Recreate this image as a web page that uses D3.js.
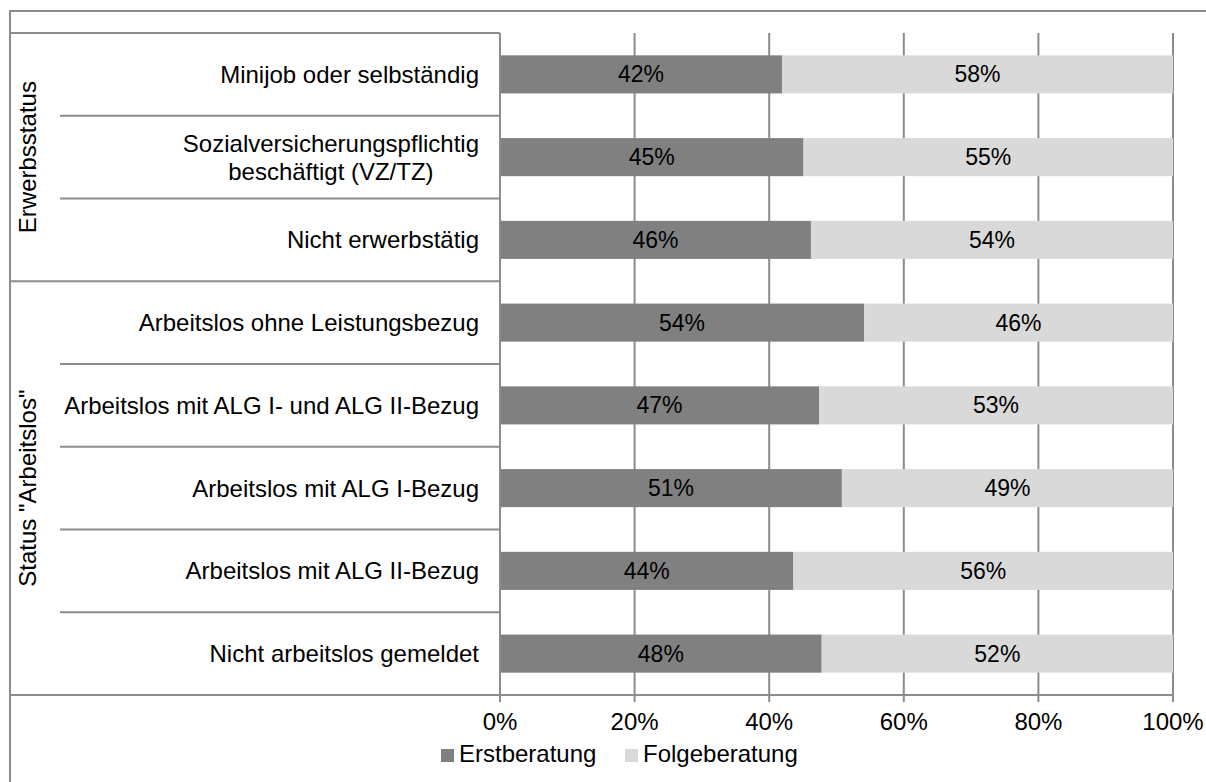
<!DOCTYPE html>
<html><head><meta charset="utf-8">
<script src="https://cdn.jsdelivr.net/npm/d3@7"></script>
<style>body{margin:0;background:#fff}svg{display:block}text{font-family:"Liberation Sans",Arial,sans-serif;fill:#000}</style>
</head><body><svg id="c" width="1206" height="782"></svg>
<script>
const categories = [
  "Minijob oder selbständig",
  "Sozialversicherungspflichtig\nbeschäftigt (VZ/TZ)",
  "Nicht erwerbstätig",
  "Arbeitslos ohne Leistungsbezug",
  "Arbeitslos mit ALG I- und ALG II-Bezug",
  "Arbeitslos mit ALG I-Bezug",
  "Arbeitslos mit ALG II-Bezug",
  "Nicht arbeitslos gemeldet"
];
const erstberatung = [41.9, 45.1, 46.2, 54.1, 47.4, 50.8, 43.6, 47.8];
const folgeberatung = [58.1, 54.9, 53.8, 45.9, 52.6, 49.2, 56.4, 52.2];
const groups = [
  {name: "Erwerbsstatus", from: 0, to: 2},
  {name: "Status \"Arbeitslos\"", from: 3, to: 7}
];
const seriesNames = ["Erstberatung", "Folgeberatung"];
const colors = ["#808080", "#d9d9d9"];
const tickValues = [0, 20, 40, 60, 80, 100];

(function(){
const svg = d3.select("#c");
const FS = 24;
const pL = 500, pR = 1173, pT = 33, pB = 695;
const x = d3.scaleLinear().domain([0, 100]).range([pL, pR]);
const y = d3.scaleBand().domain(d3.range(categories.length)).range([pT, pB]).paddingInner(0.54).paddingOuter(0.27);
const yb = d3.scaleBand().domain(d3.range(categories.length)).range([pT, pB]);
const lineCol = "#8c8c8c";

svg.append("line").attr("x1",10).attr("x2",1206).attr("y1",11).attr("y2",11).attr("stroke",lineCol).attr("stroke-width",2);
svg.append("line").attr("x1",10).attr("x2",10).attr("y1",10).attr("y2",782).attr("stroke",lineCol).attr("stroke-width",2);

svg.append("g").selectAll("line").data(tickValues.slice(1)).join("line")
  .attr("x1", d=>x(d)).attr("x2", d=>x(d)).attr("y1", pT).attr("y2", pB+7)
  .attr("stroke", lineCol).attr("stroke-width", 2);

const stack = d3.stack().keys([0,1]).value((d,k)=> k===0 ? erstberatung[d] : folgeberatung[d]);
const stacked = stack(d3.range(categories.length));
const vals = [erstberatung, folgeberatung];
stacked.forEach((s, si) => {
  const g = svg.append("g");
  g.selectAll("rect").data(s).join("rect")
    .attr("x", d=>x(d[0])).attr("width", d=>x(d[1])-x(d[0]))
    .attr("y", (d,i)=>y(i)).attr("height", y.bandwidth())
    .attr("fill", colors[si]);
  g.selectAll("text").data(s).join("text")
    .attr("x", d=>(x(d[0])+x(d[1]))/2).attr("y", (d,i)=>y(i)+y.bandwidth()/2)
    .attr("dy","0.35em").attr("text-anchor","middle").attr("font-size",FS-1)
    .text((d,i)=>Math.round(vals[si][i])+"%");
});

svg.append("line").attr("x1",pL).attr("x2",pL).attr("y1",pT).attr("y2",pB+7).attr("stroke",lineCol).attr("stroke-width",2);
svg.append("line").attr("x1",10).attr("x2",pR).attr("y1",pB).attr("y2",pB).attr("stroke",lineCol).attr("stroke-width",2);
svg.append("line").attr("x1",10).attr("x2",pL).attr("y1",pT).attr("y2",pT).attr("stroke",lineCol).attr("stroke-width",2);

const groupStarts = groups.map(g=>g.from);
svg.append("g").selectAll("line").data(d3.range(1, categories.length)).join("line")
  .attr("x1", d=> groupStarts.includes(d) ? 10 : 60).attr("x2", pL)
  .attr("y1", d=>yb(d)).attr("y2", d=>yb(d)).attr("stroke", lineCol).attr("stroke-width", 2);

const cl = svg.append("g");
categories.forEach((c,i)=>{
  const lines = c.split("\n");
  const cy = yb(i)+yb.bandwidth()/2;
  if (lines.length===1) {
    cl.append("text").attr("x",479).attr("y",cy).attr("dy","0.35em").attr("text-anchor","end").attr("font-size",FS).text(c);
  } else {
    const t = cl.append("text").attr("font-size",FS).attr("text-anchor","middle");
    const tmp = svg.append("text").attr("font-size",FS).text(lines[0]);
    const w = tmp.node().getComputedTextLength(); tmp.remove();
    const cx = 479 - w/2;
    lines.forEach((l,k)=>{
      t.append("tspan").attr("x",cx).attr("y", cy + (k-(lines.length-1)/2)*28).attr("dy","0.35em").text(l);
    });
  }
});

groups.forEach(g=>{
  const cy = (yb(g.from) + yb(g.to)+yb.bandwidth())/2;
  svg.append("text").attr("transform",`translate(28,${cy}) rotate(-90)`).attr("dy","0.35em")
    .attr("text-anchor","middle").attr("font-size",FS).text(g.name);
});

svg.append("g").selectAll("text").data(tickValues).join("text")
  .attr("x", d=>x(d)).attr("y", 722).attr("dy","0.35em").attr("text-anchor","middle").attr("font-size",FS)
  .text(d=>d+"%");

const legX = [441, 625];
seriesNames.forEach((n,i)=>{
  svg.append("rect").attr("x",legX[i]).attr("y",749).attr("width",13).attr("height",13).attr("fill",colors[i]);
  svg.append("text").attr("x",legX[i]+18).attr("y",754).attr("dy","0.35em").attr("font-size",FS).text(n);
});
})();
</script></body></html>
